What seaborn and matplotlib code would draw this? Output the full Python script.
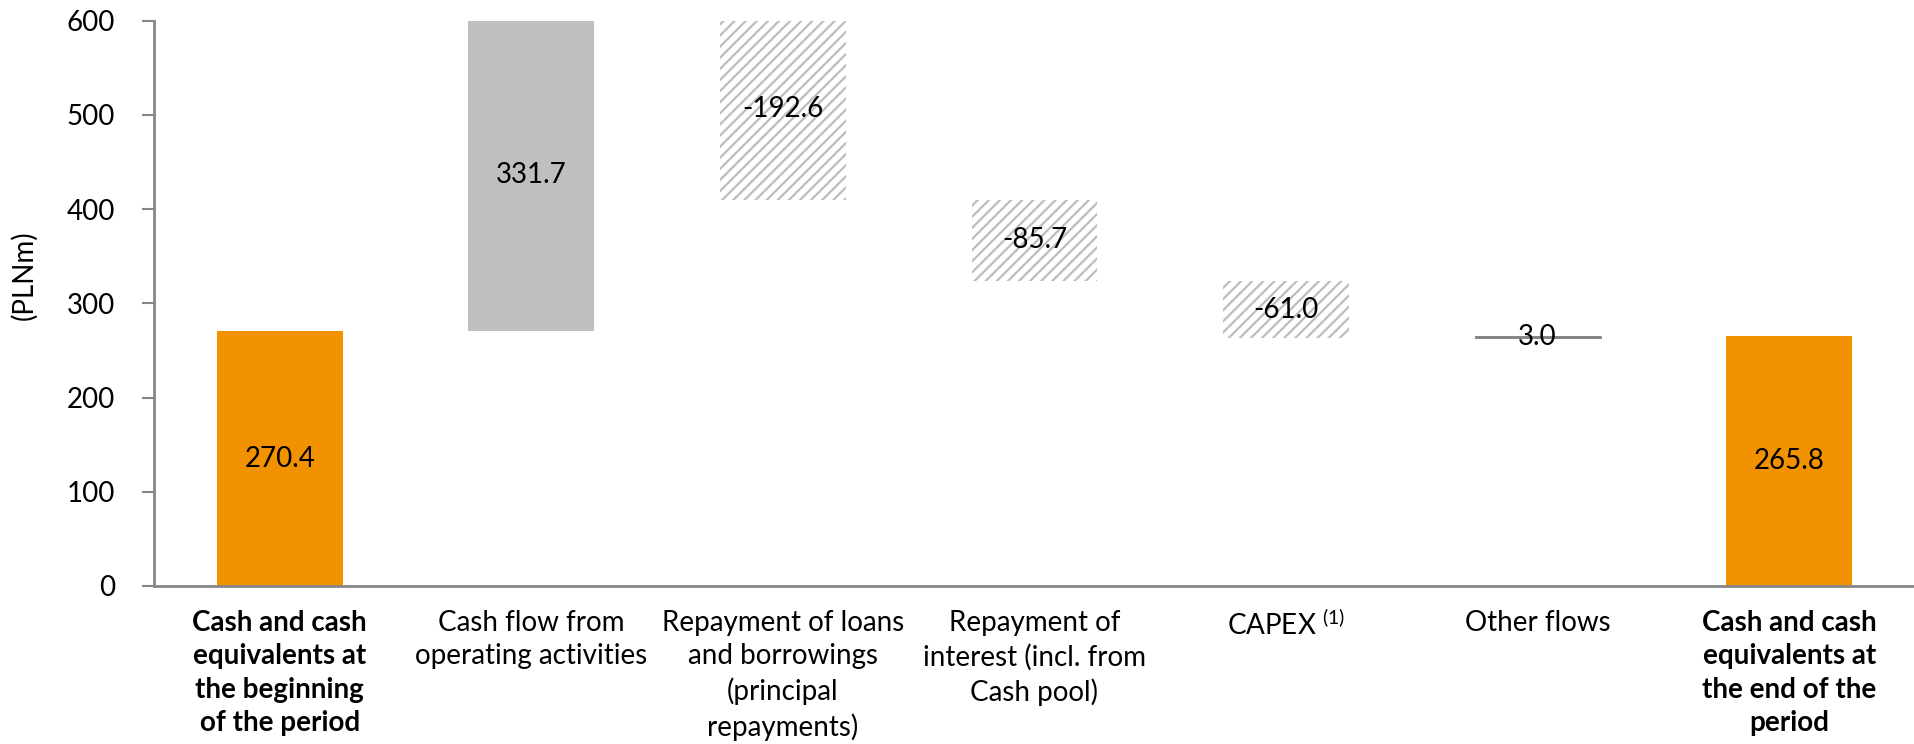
import matplotlib
matplotlib.use("Agg")
import matplotlib.pyplot as plt
import seaborn as sns
import pandas as pd

# Cash-flow bridge for the period (PLNm)
categories = [
    "Cash and cash\nequivalents at\nthe beginning\nof the period",
    "Cash flow from\noperating activities",
    "Repayment of loans\nand borrowings\n(principal\nrepayments)",
    "Repayment of\ninterest (incl. from\nCash pool)",
    "CAPEX $^{(1)}$",
    "Other flows",
    "Cash and cash\nequivalents at\nthe end of the\nperiod",
]
values = [270.4, 331.7, -192.6, -85.7, -61.0, 3.0, 265.8]
is_total = [True, False, False, False, False, False, True]
y_ticks = [0, 100, 200, 300, 400, 500, 600]

# Bar appearance per step
face_colors = ["#f39200", "#bfbfbf", "white", "white", "white", "#808080", "#f39200"]
hatches = [None, None, "///", "///", "///", None, None]

# Waterfall geometry: floating bars start where the running total stands
bottoms, heights = [], []
running = 0.0
for v, tot in zip(values, is_total):
    if tot:
        bottoms.append(0.0)
        heights.append(v)
        running = v
    else:
        bottoms.append(min(running, running + v))
        heights.append(abs(v))
        running += v

df = pd.DataFrame({"step": categories, "height": heights})

sns.set_theme(style="white")
plt.rcParams["font.family"] = ["Lato", "DejaVu Sans"]
plt.rcParams["mathtext.fontset"] = "custom"
plt.rcParams["mathtext.rm"] = "Lato"
plt.rcParams["mathtext.it"] = "Lato"
plt.rcParams["hatch.linewidth"] = 1.6

fig = plt.figure(figsize=(19.15, 7.44), dpi=100)
ax = fig.add_axes([0.0804, 0.2124, 0.9196, 0.7599])

sns.barplot(data=df, x="step", y="height", order=categories, bottom=bottoms,
            width=0.5, errorbar=None, color="#bfbfbf", linewidth=0, ax=ax)

for patch, fc, h in zip(ax.patches, face_colors, hatches):
    patch.set_facecolor(fc)
    patch.set_linewidth(0)
    if h:
        patch.set_hatch(h)
        patch.set_edgecolor("#bdbdbd")
# the tiny "Other flows" step reads as a thin line
ax.patches[5].set_edgecolor("#808080")
ax.patches[5].set_linewidth(0.6)

# Value labels in the middle of each bar
for i, (v, b, h) in enumerate(zip(values, bottoms, heights)):
    ax.text(i, b + h / 2, f"{v:.1f}", ha="center", va="center",
            fontsize=20, color="black")

ax.set_ylim(0, 600)
ax.set_xlim(-0.5, len(categories) - 0.5)
ax.set_yticks(y_ticks)
ax.set_yticklabels([str(t) for t in y_ticks], fontsize=20, color="black")
ax.set_xticks(range(len(categories)))
ax.set_xticklabels(categories, fontsize=20, color="black", linespacing=1.36, va="top")
for i, lab in enumerate(ax.get_xticklabels()):
    if is_total[i]:
        lab.set_fontweight("bold")

ax.set_xticks([i - 0.5 for i in range(len(categories) + 1)], minor=True)
ax.tick_params(axis="x", which="major", length=0, pad=17)
ax.tick_params(axis="x", which="minor", length=9, width=1.5, color="#868686", direction="out")
ax.tick_params(axis="y", length=9, width=1.5, color="#868686", direction="out", pad=19, left=True)

ax.set_xlabel("")
ax.set_ylabel("(PLNm)", fontsize=20, color="black")
ax.yaxis.set_label_coords(-0.066, 0.55)

for side in ["top", "right"]:
    ax.spines[side].set_visible(False)
for side in ["left", "bottom"]:
    ax.spines[side].set_color("#868686")
    ax.spines[side].set_linewidth(2)

fig.savefig("out.png", dpi=100, facecolor="white")
